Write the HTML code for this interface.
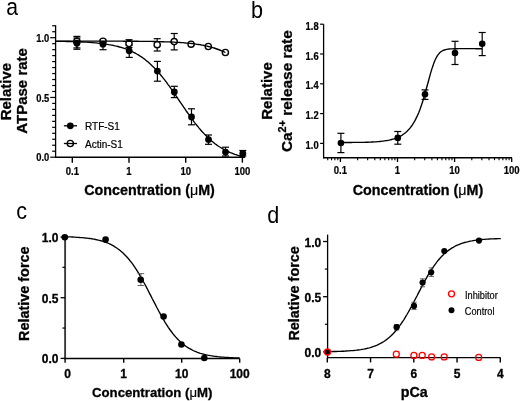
<!DOCTYPE html>
<html><head><meta charset="utf-8"><style>
html,body{margin:0;padding:0;background:#fff;width:520px;height:401px;overflow:hidden}
svg{display:block;will-change:transform}
text{font-family:"Liberation Sans", sans-serif;fill:#000}
text[font-weight="bold"]{stroke:#000;stroke-width:0.3px}
tspan[font-weight="normal"]{stroke-width:0.15px}
text.tl{stroke-width:0.22px}
text[font-size="10"][font-weight="normal"],text[font-size="10.6"][font-weight="normal"]{stroke:#000;stroke-width:0.2px}
</style></head><body>
<svg width="520" height="401" viewBox="0 0 520 401">
<text x="6.30" y="15.00" font-size="23.5" font-weight="normal" text-anchor="start" transform="translate(6.3,15) scale(0.9,1) translate(-6.3,-15)">a</text>
<line x1="55.60" y1="25.20" x2="55.60" y2="157.90" stroke="#000" stroke-width="1.3"/>
<line x1="55.00" y1="157.20" x2="245.20" y2="157.20" stroke="#000" stroke-width="1.45"/>
<line x1="50.20" y1="157.20" x2="55.60" y2="157.20" stroke="#000" stroke-width="1.2"/>
<line x1="52.20" y1="151.22" x2="55.60" y2="151.22" stroke="#000" stroke-width="1.2"/>
<line x1="52.20" y1="145.25" x2="55.60" y2="145.25" stroke="#000" stroke-width="1.2"/>
<line x1="52.20" y1="139.27" x2="55.60" y2="139.27" stroke="#000" stroke-width="1.2"/>
<line x1="52.20" y1="133.30" x2="55.60" y2="133.30" stroke="#000" stroke-width="1.2"/>
<line x1="52.20" y1="127.32" x2="55.60" y2="127.32" stroke="#000" stroke-width="1.2"/>
<line x1="52.20" y1="121.35" x2="55.60" y2="121.35" stroke="#000" stroke-width="1.2"/>
<line x1="52.20" y1="115.37" x2="55.60" y2="115.37" stroke="#000" stroke-width="1.2"/>
<line x1="52.20" y1="109.40" x2="55.60" y2="109.40" stroke="#000" stroke-width="1.2"/>
<line x1="52.20" y1="103.42" x2="55.60" y2="103.42" stroke="#000" stroke-width="1.2"/>
<line x1="50.20" y1="97.45" x2="55.60" y2="97.45" stroke="#000" stroke-width="1.2"/>
<line x1="52.20" y1="91.47" x2="55.60" y2="91.47" stroke="#000" stroke-width="1.2"/>
<line x1="52.20" y1="85.50" x2="55.60" y2="85.50" stroke="#000" stroke-width="1.2"/>
<line x1="52.20" y1="79.52" x2="55.60" y2="79.52" stroke="#000" stroke-width="1.2"/>
<line x1="52.20" y1="73.55" x2="55.60" y2="73.55" stroke="#000" stroke-width="1.2"/>
<line x1="52.20" y1="67.57" x2="55.60" y2="67.57" stroke="#000" stroke-width="1.2"/>
<line x1="52.20" y1="61.60" x2="55.60" y2="61.60" stroke="#000" stroke-width="1.2"/>
<line x1="52.20" y1="55.62" x2="55.60" y2="55.62" stroke="#000" stroke-width="1.2"/>
<line x1="52.20" y1="49.65" x2="55.60" y2="49.65" stroke="#000" stroke-width="1.2"/>
<line x1="52.20" y1="43.67" x2="55.60" y2="43.67" stroke="#000" stroke-width="1.2"/>
<line x1="50.20" y1="37.70" x2="55.60" y2="37.70" stroke="#000" stroke-width="1.2"/>
<line x1="52.20" y1="31.72" x2="55.60" y2="31.72" stroke="#000" stroke-width="1.2"/>
<line x1="52.20" y1="25.75" x2="55.60" y2="25.75" stroke="#000" stroke-width="1.2"/>
<line x1="72.30" y1="157.20" x2="72.30" y2="162.70" stroke="#000" stroke-width="1.4"/>
<text x="0" y="0" font-size="10.6" font-weight="bold" text-anchor="middle" class="tl" transform="translate(72.30,174.90) scale(0.9,1)">0.1</text>
<line x1="129.00" y1="157.20" x2="129.00" y2="162.70" stroke="#000" stroke-width="1.4"/>
<text x="0" y="0" font-size="10.6" font-weight="bold" text-anchor="middle" class="tl" transform="translate(129.00,174.90) scale(0.9,1)">1</text>
<line x1="185.70" y1="157.20" x2="185.70" y2="162.70" stroke="#000" stroke-width="1.4"/>
<text x="0" y="0" font-size="10.6" font-weight="bold" text-anchor="middle" class="tl" transform="translate(185.70,174.90) scale(0.9,1)">10</text>
<line x1="242.40" y1="157.20" x2="242.40" y2="162.70" stroke="#000" stroke-width="1.4"/>
<text x="0" y="0" font-size="10.6" font-weight="bold" text-anchor="middle" class="tl" transform="translate(242.40,174.90) scale(0.9,1)">100</text>
<text x="0" y="0" font-size="10.4" font-weight="bold" text-anchor="end" class="tl" transform="translate(49.20,161.40) scale(0.9,1)">0.0</text>
<text x="0" y="0" font-size="10.4" font-weight="bold" text-anchor="end" class="tl" transform="translate(49.20,101.65) scale(0.9,1)">0.5</text>
<text x="0" y="0" font-size="10.4" font-weight="bold" text-anchor="end" class="tl" transform="translate(49.20,41.90) scale(0.9,1)">1.0</text>
<text x="84.30" y="195.20" font-size="14.3" font-weight="bold" text-anchor="start" >Concentration (<tspan font-weight="normal">μ</tspan>M)</text>
<g transform="translate(10.8,91.6) rotate(-90)"><text x="0" y="0" font-size="15" font-weight="bold" text-anchor="middle">Relative</text></g>
<g transform="translate(26.5,90.9) rotate(-90)"><text x="0" y="0" font-size="15" font-weight="bold" text-anchor="middle">ATPase rate</text></g>
<line x1="76.90" y1="38.00" x2="76.90" y2="49.25" stroke="#000" stroke-width="1.2"/>
<line x1="73.40" y1="38.00" x2="80.40" y2="38.00" stroke="#000" stroke-width="1.2"/>
<line x1="73.40" y1="49.25" x2="80.40" y2="49.25" stroke="#000" stroke-width="1.2"/>
<line x1="103.00" y1="40.00" x2="103.00" y2="49.70" stroke="#000" stroke-width="1.2"/>
<line x1="99.50" y1="40.00" x2="106.50" y2="40.00" stroke="#000" stroke-width="1.2"/>
<line x1="99.50" y1="49.70" x2="106.50" y2="49.70" stroke="#000" stroke-width="1.2"/>
<line x1="129.20" y1="45.00" x2="129.20" y2="57.40" stroke="#000" stroke-width="1.2"/>
<line x1="125.70" y1="45.00" x2="132.70" y2="45.00" stroke="#000" stroke-width="1.2"/>
<line x1="125.70" y1="57.40" x2="132.70" y2="57.40" stroke="#000" stroke-width="1.2"/>
<line x1="157.40" y1="61.40" x2="157.40" y2="81.20" stroke="#000" stroke-width="1.2"/>
<line x1="153.90" y1="61.40" x2="160.90" y2="61.40" stroke="#000" stroke-width="1.2"/>
<line x1="153.90" y1="81.20" x2="160.90" y2="81.20" stroke="#000" stroke-width="1.2"/>
<line x1="174.30" y1="86.30" x2="174.30" y2="97.60" stroke="#000" stroke-width="1.2"/>
<line x1="170.80" y1="86.30" x2="177.80" y2="86.30" stroke="#000" stroke-width="1.2"/>
<line x1="170.80" y1="97.60" x2="177.80" y2="97.60" stroke="#000" stroke-width="1.2"/>
<line x1="191.50" y1="108.80" x2="191.50" y2="124.80" stroke="#000" stroke-width="1.2"/>
<line x1="188.00" y1="108.80" x2="195.00" y2="108.80" stroke="#000" stroke-width="1.2"/>
<line x1="188.00" y1="124.80" x2="195.00" y2="124.80" stroke="#000" stroke-width="1.2"/>
<line x1="208.50" y1="135.00" x2="208.50" y2="144.30" stroke="#000" stroke-width="1.2"/>
<line x1="205.00" y1="135.00" x2="212.00" y2="135.00" stroke="#000" stroke-width="1.2"/>
<line x1="205.00" y1="144.30" x2="212.00" y2="144.30" stroke="#000" stroke-width="1.2"/>
<line x1="225.50" y1="147.20" x2="225.50" y2="156.00" stroke="#000" stroke-width="1.2"/>
<line x1="222.00" y1="147.20" x2="229.00" y2="147.20" stroke="#000" stroke-width="1.2"/>
<line x1="222.00" y1="156.00" x2="229.00" y2="156.00" stroke="#000" stroke-width="1.2"/>
<line x1="242.80" y1="150.50" x2="242.80" y2="156.00" stroke="#000" stroke-width="1.2"/>
<line x1="239.30" y1="150.50" x2="246.30" y2="150.50" stroke="#000" stroke-width="1.2"/>
<line x1="239.30" y1="156.00" x2="246.30" y2="156.00" stroke="#000" stroke-width="1.2"/>
<line x1="76.90" y1="36.40" x2="76.90" y2="47.90" stroke="#000" stroke-width="1.2"/>
<line x1="73.40" y1="36.40" x2="80.40" y2="36.40" stroke="#000" stroke-width="1.2"/>
<line x1="73.40" y1="47.90" x2="80.40" y2="47.90" stroke="#000" stroke-width="1.2"/>
<line x1="129.00" y1="39.70" x2="129.00" y2="47.50" stroke="#000" stroke-width="1.2"/>
<line x1="125.50" y1="39.70" x2="132.50" y2="39.70" stroke="#000" stroke-width="1.2"/>
<line x1="125.50" y1="47.50" x2="132.50" y2="47.50" stroke="#000" stroke-width="1.2"/>
<line x1="157.20" y1="38.70" x2="157.20" y2="51.00" stroke="#000" stroke-width="1.2"/>
<line x1="153.70" y1="38.70" x2="160.70" y2="38.70" stroke="#000" stroke-width="1.2"/>
<line x1="153.70" y1="51.00" x2="160.70" y2="51.00" stroke="#000" stroke-width="1.2"/>
<line x1="174.20" y1="33.50" x2="174.20" y2="49.90" stroke="#000" stroke-width="1.2"/>
<line x1="170.70" y1="33.50" x2="177.70" y2="33.50" stroke="#000" stroke-width="1.2"/>
<line x1="170.70" y1="49.90" x2="177.70" y2="49.90" stroke="#000" stroke-width="1.2"/>
<circle cx="76.90" cy="41.40" r="3.1" fill="#fff" stroke="#000" stroke-width="1.4"/>
<circle cx="103.00" cy="41.20" r="3.1" fill="#fff" stroke="#000" stroke-width="1.4"/>
<circle cx="129.00" cy="43.50" r="3.1" fill="#fff" stroke="#000" stroke-width="1.4"/>
<circle cx="157.20" cy="44.70" r="3.1" fill="#fff" stroke="#000" stroke-width="1.4"/>
<circle cx="174.20" cy="41.60" r="3.1" fill="#fff" stroke="#000" stroke-width="1.4"/>
<circle cx="191.10" cy="44.20" r="3.1" fill="#fff" stroke="#000" stroke-width="1.4"/>
<circle cx="208.30" cy="46.50" r="3.1" fill="#fff" stroke="#000" stroke-width="1.4"/>
<circle cx="225.40" cy="52.50" r="3.1" fill="#fff" stroke="#000" stroke-width="1.4"/>
<circle cx="76.90" cy="43.20" r="3.4" fill="#000" stroke="none" stroke-width="0"/>
<circle cx="103.00" cy="44.20" r="3.4" fill="#000" stroke="none" stroke-width="0"/>
<circle cx="129.20" cy="50.80" r="3.4" fill="#000" stroke="none" stroke-width="0"/>
<circle cx="157.40" cy="71.10" r="3.4" fill="#000" stroke="none" stroke-width="0"/>
<circle cx="174.30" cy="92.00" r="3.4" fill="#000" stroke="none" stroke-width="0"/>
<circle cx="191.50" cy="116.90" r="3.4" fill="#000" stroke="none" stroke-width="0"/>
<circle cx="208.50" cy="139.60" r="3.4" fill="#000" stroke="none" stroke-width="0"/>
<circle cx="225.50" cy="152.10" r="3.4" fill="#000" stroke="none" stroke-width="0"/>
<circle cx="242.80" cy="153.50" r="3.4" fill="#000" stroke="none" stroke-width="0"/>
<path d="M55.6,41.3L57.2,41.3L58.7,41.3L60.3,41.3L61.8,41.4L63.4,41.4L65.0,41.4L66.5,41.5L68.1,41.5L69.6,41.5L71.2,41.6L72.8,41.6L74.3,41.7L75.9,41.7L77.4,41.8L79.0,41.8L80.6,41.9L82.1,42.0L83.7,42.1L85.2,42.1L86.8,42.2L88.4,42.3L89.9,42.4L91.5,42.6L93.0,42.7L94.6,42.8L96.2,42.9L97.7,43.1L99.3,43.3L100.8,43.4L102.4,43.6L104.0,43.8L105.5,44.1L107.1,44.3L108.6,44.6L110.2,44.8L111.8,45.1L113.3,45.4L114.9,45.8L116.4,46.1L118.0,46.5L119.6,47.0L121.1,47.4L122.7,47.9L124.2,48.4L125.8,48.9L127.4,49.5L128.9,50.2L130.5,50.8L132.0,51.5L133.6,52.3L135.2,53.1L136.7,54.0L138.3,54.9L139.8,55.9L141.4,56.9L143.0,58.0L144.5,59.1L146.1,60.4L147.6,61.6L149.2,63.0L150.8,64.4L152.3,65.9L153.9,67.4L155.4,69.0L157.0,70.7L158.6,72.5L160.1,74.3L161.7,76.2L163.2,78.1L164.8,80.1L166.4,82.2L167.9,84.3L169.5,86.4L171.0,88.6L172.6,90.8L174.2,93.1L175.7,95.4L177.3,97.7L178.8,100.0L180.4,102.3L182.0,104.6L183.5,106.9L185.1,109.2L186.6,111.5L188.2,113.7L189.8,115.9L191.3,118.1L192.9,120.2L194.4,122.3L196.0,124.3L197.6,126.2L199.1,128.1L200.7,130.0L202.2,131.7L203.8,133.4L205.4,135.1L206.9,136.6L208.5,138.1L210.0,139.6L211.6,140.9L213.2,142.2L214.7,143.5L216.3,144.6L217.8,145.7L219.4,146.8L221.0,147.8L222.5,148.7L224.1,149.6L225.6,150.4L227.2,151.2L228.8,151.9L230.3,152.6L231.9,153.2L233.4,153.8L235.0,154.4L236.6,154.9L238.1,155.4L239.7,155.8L241.2,156.3L242.8,156.6" fill="none" stroke="#000" stroke-width="1.35"/>
<path d="M55.6,41.1L57.0,41.1L58.4,41.1L59.8,41.1L61.3,41.1L62.7,41.1L64.1,41.1L65.5,41.1L66.9,41.1L68.3,41.1L69.8,41.1L71.2,41.1L72.6,41.1L74.0,41.1L75.4,41.1L76.8,41.1L78.2,41.1L79.7,41.1L81.1,41.1L82.5,41.1L83.9,41.1L85.3,41.1L86.7,41.1L88.1,41.1L89.6,41.1L91.0,41.1L92.4,41.1L93.8,41.1L95.2,41.1L96.6,41.1L98.1,41.1L99.5,41.1L100.9,41.1L102.3,41.1L103.7,41.1L105.1,41.1L106.5,41.1L108.0,41.1L109.4,41.1L110.8,41.1L112.2,41.1L113.6,41.1L115.0,41.1L116.4,41.1L117.9,41.1L119.3,41.1L120.7,41.1L122.1,41.1L123.5,41.2L124.9,41.2L126.3,41.2L127.8,41.2L129.2,41.2L130.6,41.2L132.0,41.2L133.4,41.2L134.8,41.2L136.3,41.2L137.7,41.2L139.1,41.3L140.5,41.3L141.9,41.3L143.3,41.3L144.7,41.3L146.2,41.3L147.6,41.4L149.0,41.4L150.4,41.4L151.8,41.4L153.2,41.5L154.7,41.5L156.1,41.5L157.5,41.6L158.9,41.6L160.3,41.6L161.7,41.7L163.1,41.7L164.6,41.8L166.0,41.8L167.4,41.9L168.8,41.9L170.2,42.0L171.6,42.0L173.0,42.1L174.5,42.2L175.9,42.3L177.3,42.3L178.7,42.4L180.1,42.5L181.5,42.6L183.0,42.7L184.4,42.8L185.8,43.0L187.2,43.1L188.6,43.2L190.0,43.4L191.4,43.5L192.9,43.7L194.3,43.9L195.7,44.1L197.1,44.3L198.5,44.5L199.9,44.7L201.3,45.0L202.8,45.2L204.2,45.5L205.6,45.8L207.0,46.1L208.4,46.5L209.8,46.8L211.2,47.2L212.7,47.6L214.1,48.0L215.5,48.5L216.9,49.0L218.3,49.5L219.7,50.0L221.2,50.6L222.6,51.2L224.0,51.8L225.4,52.5" fill="none" stroke="#000" stroke-width="1.35"/>
<line x1="63.90" y1="125.80" x2="77.00" y2="125.80" stroke="#000" stroke-width="1.3"/>
<circle cx="70.30" cy="125.80" r="3.4" fill="#000" stroke="none" stroke-width="0"/>
<text x="85.00" y="130.00" font-size="10" font-weight="normal" text-anchor="start" >RTF-S1</text>
<line x1="63.90" y1="143.50" x2="77.00" y2="143.50" stroke="#000" stroke-width="1.3"/>
<circle cx="70.30" cy="143.50" r="3.1" fill="none" stroke="#000" stroke-width="1.4"/>
<text x="85.00" y="147.70" font-size="10" font-weight="normal" text-anchor="start" >Actin-S1</text>
<text x="251.00" y="17.60" font-size="23.5" font-weight="normal" text-anchor="start" transform="translate(251,17.6) scale(0.92,1) translate(-251,-17.6)">b</text>
<line x1="323.60" y1="24.20" x2="323.60" y2="158.40" stroke="#000" stroke-width="1.3"/>
<line x1="323.00" y1="157.70" x2="512.00" y2="157.70" stroke="#000" stroke-width="1.45"/>
<line x1="320.10" y1="143.40" x2="323.60" y2="143.40" stroke="#000" stroke-width="1.2"/>
<text x="0" y="0" font-size="10.4" font-weight="bold" text-anchor="end" class="tl" transform="translate(318.60,148.90) scale(0.9,1)">1.0</text>
<line x1="320.10" y1="113.60" x2="323.60" y2="113.60" stroke="#000" stroke-width="1.2"/>
<text x="0" y="0" font-size="10.4" font-weight="bold" text-anchor="end" class="tl" transform="translate(318.60,119.10) scale(0.9,1)">1.2</text>
<line x1="320.10" y1="83.80" x2="323.60" y2="83.80" stroke="#000" stroke-width="1.2"/>
<text x="0" y="0" font-size="10.4" font-weight="bold" text-anchor="end" class="tl" transform="translate(318.60,89.30) scale(0.9,1)">1.4</text>
<line x1="320.10" y1="54.00" x2="323.60" y2="54.00" stroke="#000" stroke-width="1.2"/>
<text x="0" y="0" font-size="10.4" font-weight="bold" text-anchor="end" class="tl" transform="translate(318.60,59.50) scale(0.9,1)">1.6</text>
<line x1="320.10" y1="24.20" x2="323.60" y2="24.20" stroke="#000" stroke-width="1.2"/>
<text x="0" y="0" font-size="10.4" font-weight="bold" text-anchor="end" class="tl" transform="translate(318.60,29.70) scale(0.9,1)">1.8</text>
<line x1="327.73" y1="157.70" x2="327.73" y2="160.20" stroke="#000" stroke-width="1.1"/>
<line x1="331.56" y1="157.70" x2="331.56" y2="160.20" stroke="#000" stroke-width="1.1"/>
<line x1="334.87" y1="157.70" x2="334.87" y2="160.20" stroke="#000" stroke-width="1.1"/>
<line x1="337.79" y1="157.70" x2="337.79" y2="160.20" stroke="#000" stroke-width="1.1"/>
<line x1="340.40" y1="157.70" x2="340.40" y2="162.00" stroke="#000" stroke-width="1.3"/>
<line x1="357.59" y1="157.70" x2="357.59" y2="160.20" stroke="#000" stroke-width="1.1"/>
<line x1="367.64" y1="157.70" x2="367.64" y2="160.20" stroke="#000" stroke-width="1.1"/>
<line x1="374.78" y1="157.70" x2="374.78" y2="160.20" stroke="#000" stroke-width="1.1"/>
<line x1="380.31" y1="157.70" x2="380.31" y2="160.20" stroke="#000" stroke-width="1.1"/>
<line x1="384.83" y1="157.70" x2="384.83" y2="160.20" stroke="#000" stroke-width="1.1"/>
<line x1="388.66" y1="157.70" x2="388.66" y2="160.20" stroke="#000" stroke-width="1.1"/>
<line x1="391.97" y1="157.70" x2="391.97" y2="160.20" stroke="#000" stroke-width="1.1"/>
<line x1="394.89" y1="157.70" x2="394.89" y2="160.20" stroke="#000" stroke-width="1.1"/>
<line x1="397.50" y1="157.70" x2="397.50" y2="162.00" stroke="#000" stroke-width="1.3"/>
<line x1="414.69" y1="157.70" x2="414.69" y2="160.20" stroke="#000" stroke-width="1.1"/>
<line x1="424.74" y1="157.70" x2="424.74" y2="160.20" stroke="#000" stroke-width="1.1"/>
<line x1="431.88" y1="157.70" x2="431.88" y2="160.20" stroke="#000" stroke-width="1.1"/>
<line x1="437.41" y1="157.70" x2="437.41" y2="160.20" stroke="#000" stroke-width="1.1"/>
<line x1="441.93" y1="157.70" x2="441.93" y2="160.20" stroke="#000" stroke-width="1.1"/>
<line x1="445.76" y1="157.70" x2="445.76" y2="160.20" stroke="#000" stroke-width="1.1"/>
<line x1="449.07" y1="157.70" x2="449.07" y2="160.20" stroke="#000" stroke-width="1.1"/>
<line x1="451.99" y1="157.70" x2="451.99" y2="160.20" stroke="#000" stroke-width="1.1"/>
<line x1="454.60" y1="157.70" x2="454.60" y2="162.00" stroke="#000" stroke-width="1.3"/>
<line x1="471.79" y1="157.70" x2="471.79" y2="160.20" stroke="#000" stroke-width="1.1"/>
<line x1="481.84" y1="157.70" x2="481.84" y2="160.20" stroke="#000" stroke-width="1.1"/>
<line x1="488.98" y1="157.70" x2="488.98" y2="160.20" stroke="#000" stroke-width="1.1"/>
<line x1="494.51" y1="157.70" x2="494.51" y2="160.20" stroke="#000" stroke-width="1.1"/>
<line x1="499.03" y1="157.70" x2="499.03" y2="160.20" stroke="#000" stroke-width="1.1"/>
<line x1="502.86" y1="157.70" x2="502.86" y2="160.20" stroke="#000" stroke-width="1.1"/>
<line x1="506.17" y1="157.70" x2="506.17" y2="160.20" stroke="#000" stroke-width="1.1"/>
<line x1="509.09" y1="157.70" x2="509.09" y2="160.20" stroke="#000" stroke-width="1.1"/>
<line x1="511.70" y1="157.70" x2="511.70" y2="162.00" stroke="#000" stroke-width="1.3"/>
<text x="0" y="0" font-size="10.6" font-weight="bold" text-anchor="middle" class="tl" transform="translate(340.40,173.70) scale(0.9,1)">0.1</text>
<text x="0" y="0" font-size="10.6" font-weight="bold" text-anchor="middle" class="tl" transform="translate(397.50,173.70) scale(0.9,1)">1</text>
<text x="0" y="0" font-size="10.6" font-weight="bold" text-anchor="middle" class="tl" transform="translate(454.60,173.70) scale(0.9,1)">10</text>
<text x="0" y="0" font-size="10.6" font-weight="bold" text-anchor="middle" class="tl" transform="translate(511.70,173.70) scale(0.9,1)">100</text>
<text x="352.70" y="195.20" font-size="14.3" font-weight="bold" text-anchor="start" >Concentration (<tspan font-weight="normal">μ</tspan>M)</text>
<g transform="translate(272.2,91) rotate(-90)"><text x="0" y="0" font-size="15" font-weight="bold" text-anchor="middle">Relative</text></g>
<g transform="translate(292.3,91.2) rotate(-90)"><text x="0" y="0" font-size="15.4" font-weight="bold" text-anchor="middle">Ca<tspan font-size="10.8" dy="-6.5">2+</tspan><tspan dy="6.5"> release rate</tspan></text></g>
<path d="M341.1,142.5L342.3,142.5L343.4,142.5L344.6,142.5L345.8,142.5L347.0,142.5L348.1,142.5L349.3,142.5L350.5,142.5L351.7,142.5L352.8,142.4L354.0,142.4L355.2,142.4L356.4,142.4L357.5,142.4L358.7,142.4L359.9,142.4L361.1,142.4L362.2,142.3L363.4,142.3L364.6,142.3L365.8,142.2L366.9,142.2L368.1,142.2L369.3,142.1L370.5,142.1L371.6,142.0L372.8,142.0L374.0,141.9L375.2,141.8L376.3,141.8L377.5,141.7L378.7,141.6L379.8,141.5L381.0,141.4L382.2,141.2L383.4,141.1L384.5,140.9L385.7,140.7L386.9,140.6L388.1,140.3L389.2,140.1L390.4,139.8L391.6,139.5L392.8,139.2L393.9,138.9L395.1,138.5L396.3,138.0L397.5,137.6L398.6,137.0L399.8,136.5L401.0,135.8L402.2,135.1L403.3,134.3L404.5,133.5L405.7,132.5L406.9,131.4L408.0,130.3L409.2,129.0L410.4,127.6L411.6,126.0L412.7,124.3L413.9,122.4L415.1,120.4L416.2,118.1L417.4,115.6L418.6,112.9L419.8,109.9L420.9,106.7L422.1,103.2L423.3,99.5L424.5,95.5L425.6,91.3L426.8,87.0L428.0,82.7L429.2,78.3L430.3,74.1L431.5,70.1L432.7,66.4L433.9,63.1L435.0,60.2L436.2,57.8L437.4,55.7L438.6,54.1L439.7,52.8L440.9,51.8L442.1,51.0L443.3,50.4L444.4,50.0L445.6,49.6L446.8,49.4L447.9,49.2L449.1,49.0L450.3,48.9L451.5,48.8L452.6,48.8L453.8,48.7L455.0,48.7L456.2,48.7L457.3,48.7L458.5,48.6L459.7,48.6L460.9,48.6L462.0,48.6L463.2,48.6L464.4,48.6L465.6,48.6L466.7,48.6L467.9,48.6L469.1,48.6L470.3,48.6L471.4,48.6L472.6,48.6L473.8,48.6L475.0,48.6L476.1,48.7L477.3,48.7L478.5,48.7L479.7,48.7L480.8,48.7L482.0,48.7" fill="none" stroke="#000" stroke-width="1.35"/>
<line x1="340.90" y1="133.30" x2="340.90" y2="152.60" stroke="#000" stroke-width="1.2"/>
<line x1="337.40" y1="133.30" x2="344.40" y2="133.30" stroke="#000" stroke-width="1.2"/>
<line x1="337.40" y1="152.60" x2="344.40" y2="152.60" stroke="#000" stroke-width="1.2"/>
<circle cx="340.90" cy="143.00" r="3.3" fill="#000" stroke="none" stroke-width="0"/>
<line x1="397.80" y1="131.50" x2="397.80" y2="144.20" stroke="#000" stroke-width="1.2"/>
<line x1="394.30" y1="131.50" x2="401.30" y2="131.50" stroke="#000" stroke-width="1.2"/>
<line x1="394.30" y1="144.20" x2="401.30" y2="144.20" stroke="#000" stroke-width="1.2"/>
<circle cx="397.80" cy="137.90" r="3.3" fill="#000" stroke="none" stroke-width="0"/>
<line x1="425.00" y1="89.90" x2="425.00" y2="99.40" stroke="#000" stroke-width="1.2"/>
<line x1="421.50" y1="89.90" x2="428.50" y2="89.90" stroke="#000" stroke-width="1.2"/>
<line x1="421.50" y1="99.40" x2="428.50" y2="99.40" stroke="#000" stroke-width="1.2"/>
<circle cx="425.00" cy="94.30" r="3.3" fill="#000" stroke="none" stroke-width="0"/>
<line x1="455.00" y1="41.30" x2="455.00" y2="64.50" stroke="#000" stroke-width="1.2"/>
<line x1="451.50" y1="41.30" x2="458.50" y2="41.30" stroke="#000" stroke-width="1.2"/>
<line x1="451.50" y1="64.50" x2="458.50" y2="64.50" stroke="#000" stroke-width="1.2"/>
<circle cx="455.00" cy="53.00" r="3.3" fill="#000" stroke="none" stroke-width="0"/>
<line x1="482.20" y1="32.50" x2="482.20" y2="55.60" stroke="#000" stroke-width="1.2"/>
<line x1="478.70" y1="32.50" x2="485.70" y2="32.50" stroke="#000" stroke-width="1.2"/>
<line x1="478.70" y1="55.60" x2="485.70" y2="55.60" stroke="#000" stroke-width="1.2"/>
<circle cx="482.20" cy="43.80" r="3.3" fill="#000" stroke="none" stroke-width="0"/>
<text x="16.20" y="218.70" font-size="23.5" font-weight="normal" text-anchor="start" transform="translate(16.2,218.7) scale(0.92,1) translate(-16.2,-218.7)">c</text>
<line x1="65.10" y1="236.90" x2="65.10" y2="359.20" stroke="#3a3a3a" stroke-width="1.9"/>
<line x1="64.20" y1="358.40" x2="239.60" y2="358.40" stroke="#000" stroke-width="1.45"/>
<line x1="62.40" y1="328.05" x2="65.10" y2="328.05" stroke="#000" stroke-width="1.2"/>
<line x1="62.40" y1="267.35" x2="65.10" y2="267.35" stroke="#000" stroke-width="1.2"/>
<line x1="60.60" y1="358.40" x2="65.10" y2="358.40" stroke="#000" stroke-width="1.3"/>
<text x="58.50" y="363.20" font-size="12" font-weight="bold" text-anchor="end" >0.0</text>
<line x1="60.60" y1="297.70" x2="65.10" y2="297.70" stroke="#000" stroke-width="1.3"/>
<text x="58.50" y="302.50" font-size="12" font-weight="bold" text-anchor="end" >0.5</text>
<line x1="60.60" y1="237.00" x2="65.10" y2="237.00" stroke="#000" stroke-width="1.3"/>
<text x="58.50" y="241.80" font-size="12" font-weight="bold" text-anchor="end" >1.0</text>
<line x1="65.10" y1="358.40" x2="65.10" y2="362.70" stroke="#000" stroke-width="1.4"/>
<line x1="123.70" y1="358.40" x2="123.70" y2="362.70" stroke="#000" stroke-width="1.4"/>
<line x1="181.70" y1="358.40" x2="181.70" y2="362.70" stroke="#000" stroke-width="1.4"/>
<line x1="239.70" y1="358.40" x2="239.70" y2="362.70" stroke="#000" stroke-width="1.4"/>
<text x="123.70" y="378.40" font-size="12" font-weight="bold" text-anchor="middle" >1</text>
<text x="181.70" y="378.40" font-size="12" font-weight="bold" text-anchor="middle" >10</text>
<text x="239.70" y="378.40" font-size="12" font-weight="bold" text-anchor="middle" >100</text>
<text x="67.70" y="378.40" font-size="12" font-weight="bold" text-anchor="middle" >0</text>
<text x="92.00" y="397.00" font-size="13.2" font-weight="bold" text-anchor="start" >Concentration (<tspan font-weight="normal">μ</tspan>M)</text>
<g transform="translate(29.4,293.7) rotate(-90)"><text x="0" y="0" font-size="14.4" font-weight="bold" text-anchor="middle">Relative force</text></g>
<path d="M65.1,236.7L66.6,236.8L68.0,236.8L69.5,236.9L70.9,236.9L72.4,237.0L73.8,237.1L75.3,237.2L76.7,237.3L78.2,237.3L79.6,237.5L81.1,237.6L82.5,237.7L84.0,237.8L85.5,238.0L86.9,238.1L88.4,238.3L89.8,238.5L91.3,238.7L92.7,239.0L94.2,239.2L95.6,239.5L97.1,239.8L98.5,240.2L100.0,240.5L101.5,240.9L102.9,241.4L104.4,241.8L105.8,242.4L107.3,242.9L108.7,243.5L110.2,244.2L111.6,244.9L113.1,245.7L114.5,246.6L116.0,247.5L117.4,248.5L118.9,249.5L120.4,250.7L121.8,251.9L123.3,253.2L124.7,254.7L126.2,256.2L127.6,257.8L129.1,259.5L130.5,261.3L132.0,263.2L133.4,265.2L134.9,267.3L136.4,269.6L137.8,271.9L139.3,274.3L140.7,276.8L142.2,279.3L143.6,282.0L145.1,284.7L146.5,287.4L148.0,290.2L149.4,293.1L150.9,295.9L152.3,298.8L153.8,301.6L155.3,304.4L156.7,307.2L158.2,310.0L159.6,312.7L161.1,315.3L162.5,317.9L164.0,320.4L165.4,322.8L166.9,325.1L168.3,327.3L169.8,329.5L171.3,331.5L172.7,333.4L174.2,335.2L175.6,336.9L177.1,338.5L178.5,340.0L180.0,341.4L181.4,342.7L182.9,344.0L184.3,345.1L185.8,346.2L187.2,347.2L188.7,348.1L190.2,348.9L191.6,349.7L193.1,350.5L194.5,351.1L196.0,351.7L197.4,352.3L198.9,352.8L200.3,353.3L201.8,353.7L203.2,354.1L204.7,354.5L206.2,354.8L207.6,355.2L209.1,355.4L210.5,355.7L212.0,355.9L213.4,356.1L214.9,356.3L216.3,356.5L217.8,356.7L219.2,356.8L220.7,357.0L222.2,357.1L223.6,357.2L225.1,357.3L226.5,357.4L228.0,357.5L229.4,357.6L230.9,357.7L232.3,357.7L233.8,357.8L235.2,357.8L236.7,357.9L238.1,357.9L239.6,358.0" fill="none" stroke="#000" stroke-width="1.35"/>
<line x1="140.90" y1="273.60" x2="140.90" y2="285.50" stroke="#555" stroke-width="0.9"/>
<line x1="137.60" y1="273.60" x2="144.20" y2="273.60" stroke="#555" stroke-width="0.9"/>
<line x1="137.60" y1="285.50" x2="144.20" y2="285.50" stroke="#555" stroke-width="0.9"/>
<circle cx="64.80" cy="237.30" r="3.3" fill="#000" stroke="none" stroke-width="0"/>
<circle cx="105.60" cy="239.60" r="3.3" fill="#000" stroke="none" stroke-width="0"/>
<circle cx="140.70" cy="279.70" r="3.3" fill="#000" stroke="none" stroke-width="0"/>
<circle cx="163.60" cy="316.50" r="3.3" fill="#000" stroke="none" stroke-width="0"/>
<circle cx="181.40" cy="344.50" r="3.3" fill="#000" stroke="none" stroke-width="0"/>
<circle cx="204.30" cy="358.00" r="3.3" fill="#000" stroke="none" stroke-width="0"/>
<text x="267.20" y="223.10" font-size="23.5" font-weight="normal" text-anchor="start" transform="translate(267.2,223.1) scale(0.92,1) translate(-267.2,-223.1)">d</text>
<line x1="327.60" y1="234.60" x2="327.60" y2="358.30" stroke="#000" stroke-width="1.3"/>
<line x1="327.00" y1="357.60" x2="500.50" y2="357.60" stroke="#000" stroke-width="1.4"/>
<line x1="324.90" y1="324.30" x2="327.60" y2="324.30" stroke="#000" stroke-width="1.2"/>
<line x1="324.90" y1="269.10" x2="327.60" y2="269.10" stroke="#000" stroke-width="1.2"/>
<line x1="323.10" y1="351.90" x2="327.60" y2="351.90" stroke="#000" stroke-width="1.3"/>
<text x="321.30" y="357.00" font-size="12" font-weight="bold" text-anchor="end" >0.0</text>
<line x1="323.10" y1="296.70" x2="327.60" y2="296.70" stroke="#000" stroke-width="1.3"/>
<text x="321.30" y="301.80" font-size="12" font-weight="bold" text-anchor="end" >0.5</text>
<line x1="323.10" y1="241.50" x2="327.60" y2="241.50" stroke="#000" stroke-width="1.3"/>
<text x="321.30" y="246.60" font-size="12" font-weight="bold" text-anchor="end" >1.0</text>
<line x1="327.30" y1="357.60" x2="327.30" y2="362.40" stroke="#000" stroke-width="1.4"/>
<text x="327.30" y="377.80" font-size="12" font-weight="bold" text-anchor="middle" >8</text>
<line x1="370.55" y1="357.60" x2="370.55" y2="362.40" stroke="#000" stroke-width="1.4"/>
<text x="370.55" y="377.80" font-size="12" font-weight="bold" text-anchor="middle" >7</text>
<line x1="413.80" y1="357.60" x2="413.80" y2="362.40" stroke="#000" stroke-width="1.4"/>
<text x="413.80" y="377.80" font-size="12" font-weight="bold" text-anchor="middle" >6</text>
<line x1="457.05" y1="357.60" x2="457.05" y2="362.40" stroke="#000" stroke-width="1.4"/>
<text x="457.05" y="377.80" font-size="12" font-weight="bold" text-anchor="middle" >5</text>
<line x1="500.30" y1="357.60" x2="500.30" y2="362.40" stroke="#000" stroke-width="1.4"/>
<text x="500.30" y="377.80" font-size="12" font-weight="bold" text-anchor="middle" >4</text>
<text x="400.80" y="396.80" font-size="14.3" font-weight="bold" text-anchor="start" >pCa</text>
<g transform="translate(298.9,293.4) rotate(-90)"><text x="0" y="0" font-size="14.4" font-weight="bold" text-anchor="middle">Relative force</text></g>
<path d="M327.6,351.7L329.0,351.6L330.5,351.6L331.9,351.6L333.4,351.5L334.8,351.5L336.3,351.5L337.7,351.4L339.1,351.4L340.6,351.3L342.0,351.2L343.5,351.2L344.9,351.1L346.4,351.0L347.8,350.9L349.2,350.8L350.7,350.7L352.1,350.6L353.6,350.5L355.0,350.3L356.5,350.2L357.9,350.0L359.4,349.8L360.8,349.6L362.2,349.3L363.7,349.1L365.1,348.8L366.6,348.5L368.0,348.1L369.5,347.8L370.9,347.4L372.3,346.9L373.8,346.4L375.2,345.9L376.7,345.3L378.1,344.6L379.6,343.9L381.0,343.2L382.4,342.4L383.9,341.5L385.3,340.5L386.8,339.4L388.2,338.3L389.7,337.1L391.1,335.7L392.6,334.3L394.0,332.8L395.4,331.2L396.9,329.5L398.3,327.6L399.8,325.7L401.2,323.7L402.7,321.5L404.1,319.3L405.5,316.9L407.0,314.5L408.4,312.0L409.9,309.4L411.3,306.7L412.8,304.0L414.2,301.3L415.6,298.5L417.1,295.7L418.5,292.9L420.0,290.1L421.4,287.3L422.9,284.6L424.3,281.9L425.7,279.3L427.2,276.7L428.6,274.2L430.1,271.9L431.5,269.6L433.0,267.4L434.4,265.3L435.9,263.3L437.3,261.4L438.7,259.7L440.2,258.0L441.6,256.4L443.1,255.0L444.5,253.6L446.0,252.3L447.4,251.2L448.8,250.1L450.3,249.1L451.7,248.1L453.2,247.3L454.6,246.5L456.1,245.7L457.5,245.1L458.9,244.5L460.4,243.9L461.8,243.4L463.3,242.9L464.7,242.5L466.2,242.1L467.6,241.8L469.0,241.4L470.5,241.1L471.9,240.9L473.4,240.6L474.8,240.4L476.3,240.2L477.7,240.0L479.2,239.8L480.6,239.7L482.0,239.5L483.5,239.4L484.9,239.3L486.4,239.2L487.8,239.1L489.3,239.0L490.7,238.9L492.1,238.9L493.6,238.8L495.0,238.7L496.5,238.7L497.9,238.6L499.4,238.6L500.8,238.6" fill="none" stroke="#000" stroke-width="1.35"/>
<line x1="411.40" y1="302.30" x2="416.60" y2="302.30" stroke="#444" stroke-width="0.8"/>
<line x1="411.40" y1="309.60" x2="416.60" y2="309.60" stroke="#444" stroke-width="0.8"/>
<line x1="414.00" y1="302.30" x2="414.00" y2="309.60" stroke="#444" stroke-width="0.8"/>
<line x1="420.00" y1="278.80" x2="425.20" y2="278.80" stroke="#444" stroke-width="0.8"/>
<line x1="420.00" y1="286.80" x2="425.20" y2="286.80" stroke="#444" stroke-width="0.8"/>
<line x1="422.60" y1="278.80" x2="422.60" y2="286.80" stroke="#444" stroke-width="0.8"/>
<line x1="428.70" y1="267.90" x2="433.90" y2="267.90" stroke="#444" stroke-width="0.8"/>
<line x1="428.70" y1="276.50" x2="433.90" y2="276.50" stroke="#444" stroke-width="0.8"/>
<line x1="431.30" y1="267.90" x2="431.30" y2="276.50" stroke="#444" stroke-width="0.8"/>
<line x1="394.00" y1="324.50" x2="399.20" y2="324.50" stroke="#444" stroke-width="0.8"/>
<line x1="394.00" y1="330.00" x2="399.20" y2="330.00" stroke="#444" stroke-width="0.8"/>
<line x1="396.60" y1="324.50" x2="396.60" y2="330.00" stroke="#444" stroke-width="0.8"/>
<circle cx="327.50" cy="352.00" r="3.1" fill="#000" stroke="none" stroke-width="0"/>
<circle cx="396.60" cy="327.20" r="3.1" fill="#000" stroke="none" stroke-width="0"/>
<circle cx="414.00" cy="305.90" r="3.1" fill="#000" stroke="none" stroke-width="0"/>
<circle cx="422.60" cy="282.50" r="3.1" fill="#000" stroke="none" stroke-width="0"/>
<circle cx="431.20" cy="272.30" r="3.1" fill="#000" stroke="none" stroke-width="0"/>
<circle cx="444.30" cy="251.00" r="3.1" fill="#000" stroke="none" stroke-width="0"/>
<circle cx="479.00" cy="240.60" r="3.1" fill="#000" stroke="none" stroke-width="0"/>
<circle cx="327.50" cy="352.00" r="3.0" fill="none" stroke="#f00" stroke-width="1.3"/>
<circle cx="396.30" cy="354.20" r="3.0" fill="none" stroke="#f00" stroke-width="1.3"/>
<circle cx="413.90" cy="355.40" r="3.0" fill="none" stroke="#f00" stroke-width="1.3"/>
<circle cx="422.20" cy="355.40" r="3.0" fill="none" stroke="#f00" stroke-width="1.3"/>
<circle cx="431.60" cy="356.90" r="3.0" fill="none" stroke="#f00" stroke-width="1.3"/>
<circle cx="444.20" cy="356.90" r="3.0" fill="none" stroke="#f00" stroke-width="1.3"/>
<circle cx="478.70" cy="357.40" r="3.0" fill="none" stroke="#f00" stroke-width="1.3"/>
<circle cx="451.50" cy="293.80" r="3.0" fill="none" stroke="#f00" stroke-width="1.3"/>
<text x="465.00" y="298.70" font-size="10.6" font-weight="normal" text-anchor="start" transform="translate(465,0) scale(0.87,1) translate(-465,0)">Inhibitor</text>
<circle cx="451.50" cy="310.30" r="3.0" fill="#000" stroke="none" stroke-width="0"/>
<text x="464.80" y="315.50" font-size="10.6" font-weight="normal" text-anchor="start" transform="translate(464.8,0) scale(0.87,1) translate(-464.8,0)">Control</text>
</svg>
</body></html>
